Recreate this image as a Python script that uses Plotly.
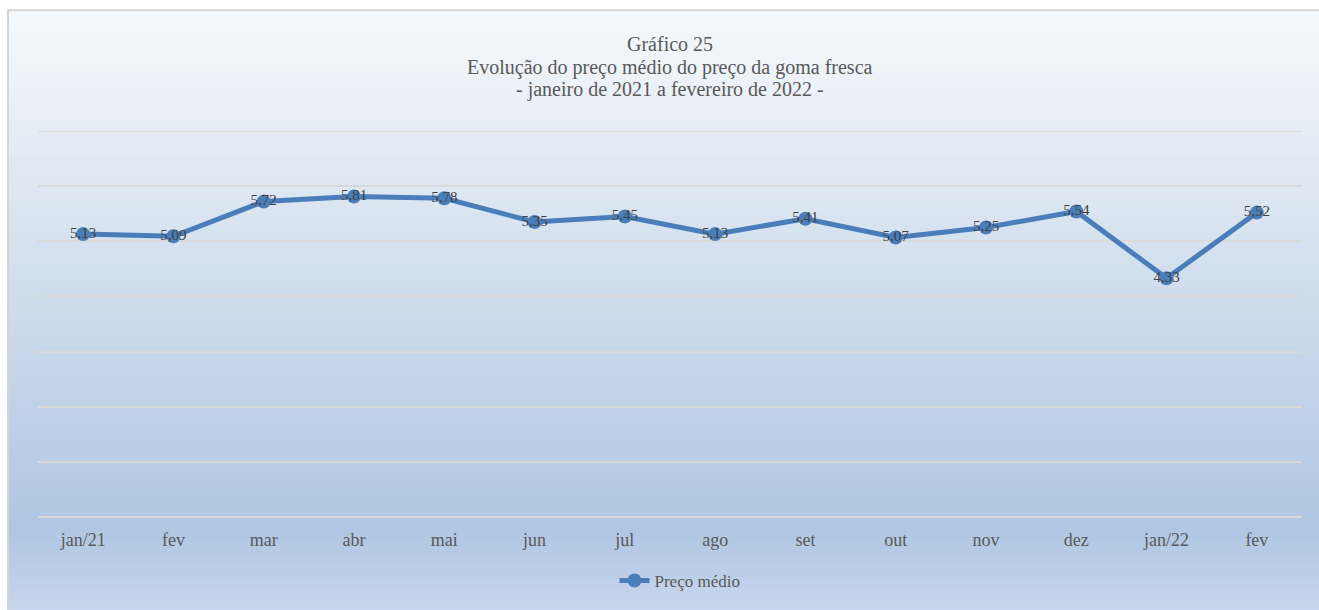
import plotly.graph_objects as go

categories = ["jan/21", "fev", "mar", "abr", "mai", "jun", "jul", "ago", "set", "out", "nov", "dez", "jan/22", "fev"]
precos = [5.13, 5.09, 5.72, 5.81, 5.78, 5.35, 5.45, 5.13, 5.41, 5.07, 5.25, 5.54, 4.33, 5.52]
labels = [f"{v:.2f}".replace(".", ",") for v in precos]
title_lines = ["Gráfico 25",
               "Evolução do preço médio do preço da goma fresca",
               "- janeiro de 2021 a fevereiro de 2022 -"]
x_idx = list(range(len(categories)))

W, H = 1319, 610
L, R, T, B = 38, 17, 131, 92
PW, PH = W - L - R, H - T - B


def px_to_paper(px, py):
    return (px - L) / PW, (H - B - py) / PH


# gradient background stops (pixel y, rgb)
stops = [(10, (246, 249, 253)), (200, (220, 230, 241)), (530, (176, 198, 226)), (615, (199, 215, 236))]


def color_at(py):
    for (y0, c0), (y1, c1) in zip(stops, stops[1:]):
        if y0 <= py <= y1:
            t = (py - y0) / (y1 - y0)
            return "rgb(%d,%d,%d)" % tuple(round(a + (b - a) * t) for a, b in zip(c0, c1))
    return "rgb(%d,%d,%d)" % stops[-1][1]


shapes = []
step = 4
for py in range(10, 615, step):
    x0, y0 = px_to_paper(9, py)
    x1, y1 = px_to_paper(1330, py + step + 1)
    shapes.append(dict(type="rect", xref="paper", yref="paper", x0=x0, x1=x1, y0=y1, y1=y0,
                       fillcolor=color_at(py + step / 2), line=dict(width=0), layer="below"))
bx0, by0 = px_to_paper(8, 10)
bx1, by1 = px_to_paper(1335, 620)
shapes.append(dict(type="rect", xref="paper", yref="paper", x0=bx0, x1=bx1, y0=by1, y1=by0,
                   fillcolor="rgba(0,0,0,0)", line=dict(color="#d4d4d4", width=2), layer="below"))
# top gridline at y = 7
shapes.append(dict(type="line", xref="paper", yref="y", x0=0, x1=1, y0=7, y1=7,
                   line=dict(color="#d9d9d9", width=2), layer="below"))

annotations = []
for i, line in enumerate(title_lines):
    ay = [44, 67, 89][i]
    ax, ayp = px_to_paper(670, ay)
    annotations.append(dict(text=line, xref="paper", yref="paper", x=ax, y=ayp,
                            xanchor="center", yanchor="middle", showarrow=False,
                            font=dict(family="Liberation Serif", size=20, color="#595959")))

fig = go.Figure()
fig.add_trace(go.Scatter(
    x=x_idx, y=precos, mode="lines+markers+text", name="Preço médio",
    text=labels, textposition="middle center",
    textfont=dict(family="Liberation Serif", size=15, color="#404040"),
    line=dict(color="#4a7ebb", width=5),
    marker=dict(color="#4a7ebb", size=14),
    cliponaxis=False,
))

fig.update_layout(
    width=W, height=H,
    margin=dict(l=L, r=R, t=T, b=B),
    paper_bgcolor="white", plot_bgcolor="rgba(0,0,0,0)",
    shapes=shapes,
    annotations=annotations,
    font=dict(family="Liberation Serif", color="#595959"),
    xaxis=dict(
        tickmode="array", tickvals=x_idx, ticktext=categories,
        range=[-0.5, len(categories) - 0.5],
        showgrid=False, zeroline=False, showline=False,
        ticks="outside", ticklen=6, tickcolor="rgba(0,0,0,0)",
        tickfont=dict(family="Liberation Serif", size=18, color="#595959"),
    ),
    yaxis=dict(
        range=[0, 7], dtick=1, showticklabels=False,
        showgrid=True, gridcolor="#d9d9d9", gridwidth=2,
        zeroline=True, zerolinecolor="#d9d9d9", zerolinewidth=2,
        showline=False,
    ),
    showlegend=True,
    legend=dict(
        orientation="h", x=(680 - L) / PW, xanchor="center",
        y=(H - B - 581) / PH, yanchor="middle",
        font=dict(family="Liberation Serif", size=17, color="#595959"),
        bgcolor="rgba(0,0,0,0)",
    ),
)

fig.write_html("out.html", config={"displayModeBar": False},
               post_script="document.body.style.margin='0';document.body.style.overflow='hidden';")
